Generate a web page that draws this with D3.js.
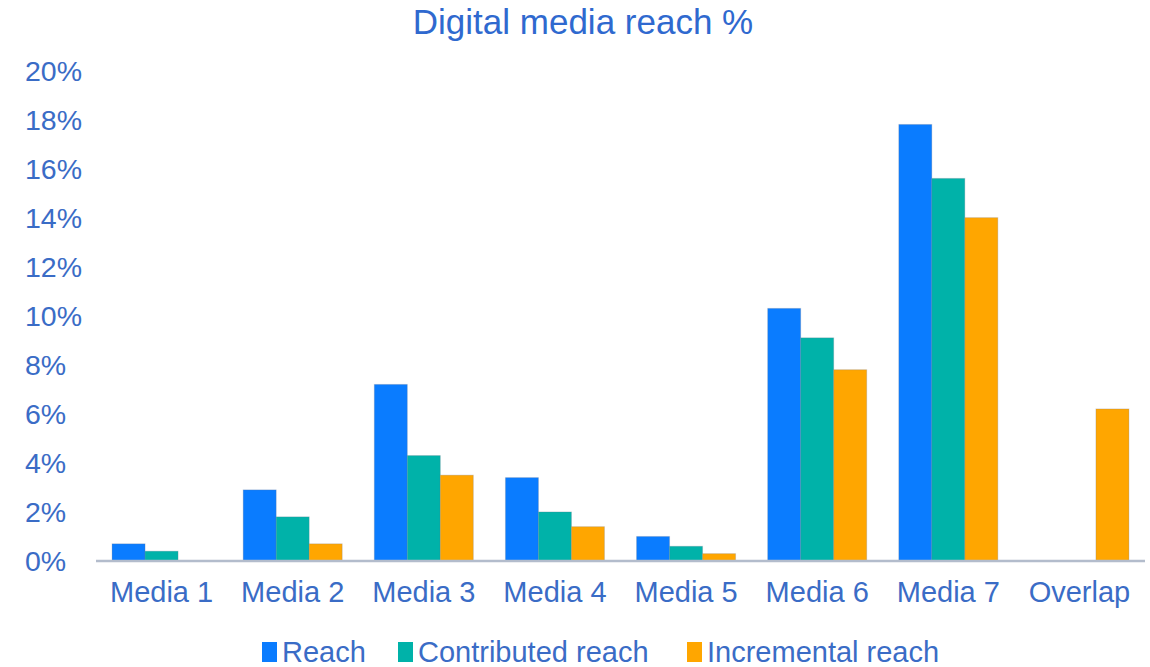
<!DOCTYPE html>
<html>
<head>
<meta charset="utf-8">
<script src="https://cdn.jsdelivr.net/npm/d3@7"></script>
<style>
  body { margin: 0; background: #fff; }
  text { font-family: "Liberation Sans", Arial, sans-serif; }
</style>
</head>
<body>
<script>
// data
const categories = ["Media 1", "Media 2", "Media 3", "Media 4", "Media 5", "Media 6", "Media 7", "Overlap"];
const seriesNames = ["Reach", "Contributed reach", "Incremental reach"];
const reach = [0.7, 2.9, 7.2, 3.4, 1.0, 10.3, 17.8, 0];
const contributed = [0.4, 1.8, 4.3, 2.0, 0.6, 9.1, 15.6, 0];
const incremental = [0, 0.7, 3.5, 1.4, 0.3, 7.8, 14.0, 6.2];
const yTicks = [0, 2, 4, 6, 8, 10, 12, 14, 16, 18, 20];

const colors = ["#0a7cff", "#00b2a9", "#ffa600"];
const textCol = "#3a6cc6";

const width = 1150, height = 667;

const svg = d3.select("body").append("svg")
  .attr("width", width)
  .attr("height", height);

// scales
const x = d3.scaleBand().domain(categories).range([96, 1145])
  .paddingInner(0.245).paddingOuter(0.1225);
const xs = d3.scaleBand().domain(seriesNames).range([0, x.bandwidth()]);
const y = d3.scaleLinear().domain([0, 20]).range([561, 70.5]);
const col = d3.scaleOrdinal().domain(seriesNames).range(colors);

// title
svg.append("text")
  .attr("x", 583).attr("y", 34)
  .attr("text-anchor", "middle")
  .attr("font-size", 35)
  .attr("fill", "#2f69cf")
  .text("Digital media reach %");

// y labels (left aligned)
const yAxis = d3.axisLeft(y).tickValues(yTicks).tickFormat(d => d + "%").tickSize(0);
const ya = svg.append("g").attr("transform", "translate(25,0)").call(yAxis);
ya.select(".domain").remove();
ya.selectAll("text")
  .attr("x", 0).attr("dy", "0.35em")
  .attr("text-anchor", "start")
  .attr("font-size", 28.5)
  .attr("font-family", "Liberation Sans, Arial, sans-serif")
  .attr("fill", textCol);

// bars
const rows = categories.map((c, i) => ({
  cat: c,
  vals: [reach[i], contributed[i], incremental[i]]
}));

const groups = svg.append("g").selectAll("g")
  .data(rows).join("g")
  .attr("transform", d => `translate(${x(d.cat)},0)`);

groups.selectAll("rect")
  .data(d => d.vals.map((v, k) => ({ key: seriesNames[k], v })).filter(e => e.v > 0))
  .join("rect")
  .attr("x", d => xs(d.key))
  .attr("y", d => y(d.v))
  .attr("width", xs.bandwidth())
  .attr("height", d => y(0) - y(d.v))
  .attr("fill", d => col(d.key))
  .attr("stroke", "rgba(110,120,140,0.25)")
  .attr("stroke-width", 1);

// x axis
const xAxis = d3.axisBottom(x).tickSize(0).tickPadding(20);
const xa = svg.append("g").attr("transform", `translate(0,${y(0)})`).call(xAxis);
xa.select(".domain")
  .attr("stroke", "#b3bccc")
  .attr("stroke-width", 2.5)
  .attr("d", "M96,0H1145");
xa.selectAll("text")
  .attr("font-size", 29)
  .attr("font-family", "Liberation Sans, Arial, sans-serif")
  .attr("fill", textCol);

// legend
const legendX = [262, 398, 687];
const lg = svg.append("g").selectAll("g")
  .data(seriesNames).join("g")
  .attr("transform", (d, i) => `translate(${legendX[i]},642)`);
lg.append("rect")
  .attr("width", 15).attr("height", 20)
  .attr("fill", d => col(d));
lg.append("text")
  .attr("x", 20).attr("y", 20)
  .attr("font-size", 29)
  .attr("fill", textCol)
  .text(d => d);
</script>
</body>
</html>
